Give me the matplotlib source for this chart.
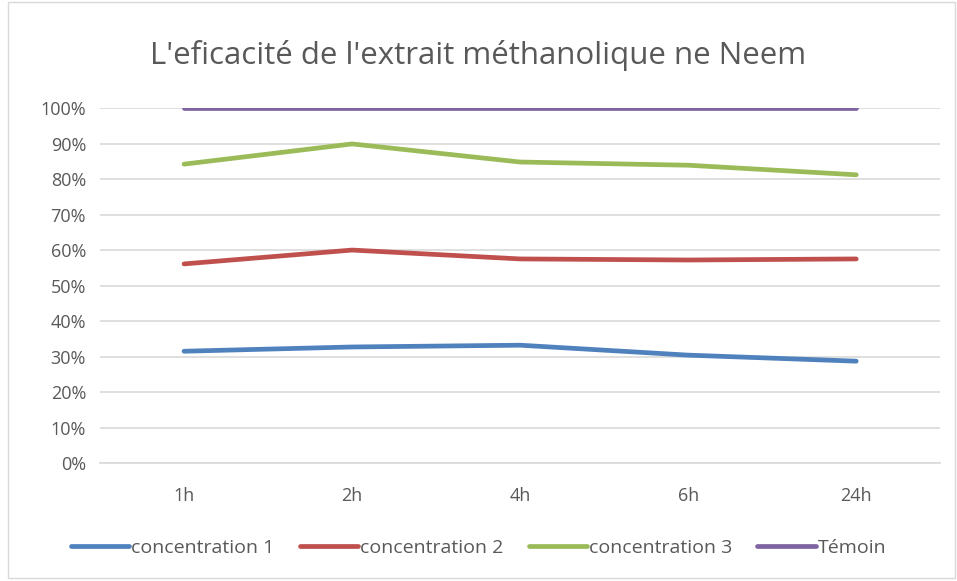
import matplotlib
matplotlib.use('Agg')
import matplotlib.pyplot as plt
from matplotlib.patches import Rectangle

# Efficacy of the methanolic Neem extract over time
hours = ['1h', '2h', '4h', '6h', '24h']
conc1 = [31.5, 32.7, 33.2, 30.4, 28.7]
conc2 = [56.1, 60.0, 57.5, 57.2, 57.5]
conc3 = [84.2, 89.9, 84.8, 83.9, 81.2]
temoin = [100, 100, 100, 100, 100]

series = [
    ('concentration 1', conc1, '#4F81BD'),
    ('concentration 2', conc2, '#C0504D'),
    ('concentration 3', conc3, '#9BBB59'),
    ('Témoin', temoin, '#8064A2'),
]

plt.rcParams['font.family'] = ['Open Sans', 'DejaVu Sans']
fig = plt.figure(figsize=(9.57, 5.81), dpi=100)
ax = fig.add_axes([0.1045, 0.203, 0.878, 0.611])

x = list(range(len(hours)))
for name, vals, col in series:
    ax.plot(x, [v / 100 for v in vals], color=col, lw=3.4,
            solid_capstyle='round', label=name)

ax.set_xlim(-0.5, len(hours) - 0.5)
ax.set_ylim(0, 1)
ax.set_yticks([i / 10 for i in range(11)])
ax.set_yticklabels([f'{i * 10}%' for i in range(11)])
ax.set_xticks(x)
ax.set_xticklabels(hours)
ax.tick_params(length=0, labelsize=13, colors='#595959', pad=10)
ax.tick_params(axis='x', pad=17)
ax.grid(axis='y', color='#D9D9D9', lw=1.2)
ax.set_axisbelow(True)
for s in ['top', 'right', 'left']:
    ax.spines[s].set_visible(False)
ax.spines['bottom'].set_color('#D9D9D9')
ax.spines['bottom'].set_linewidth(1.2)

fig.text(0.5, 0.905, "L'eficacité de l'extrait méthanolique ne Neem",
         ha='center', va='center', fontsize=22.5, color='#595959')

fig.legend(loc='center', bbox_to_anchor=(0.5, 0.057), ncol=4, frameon=False,
           fontsize=14, labelcolor='#595959', handlelength=3.0,
           handletextpad=0.1, columnspacing=1.3)

# chart area border
fig.add_artist(Rectangle((0.008, 0.006), 0.99, 0.99, transform=fig.transFigure,
                         fill=False, edgecolor='#D9D9D9', lw=1))

fig.savefig('out.png', dpi=100)
